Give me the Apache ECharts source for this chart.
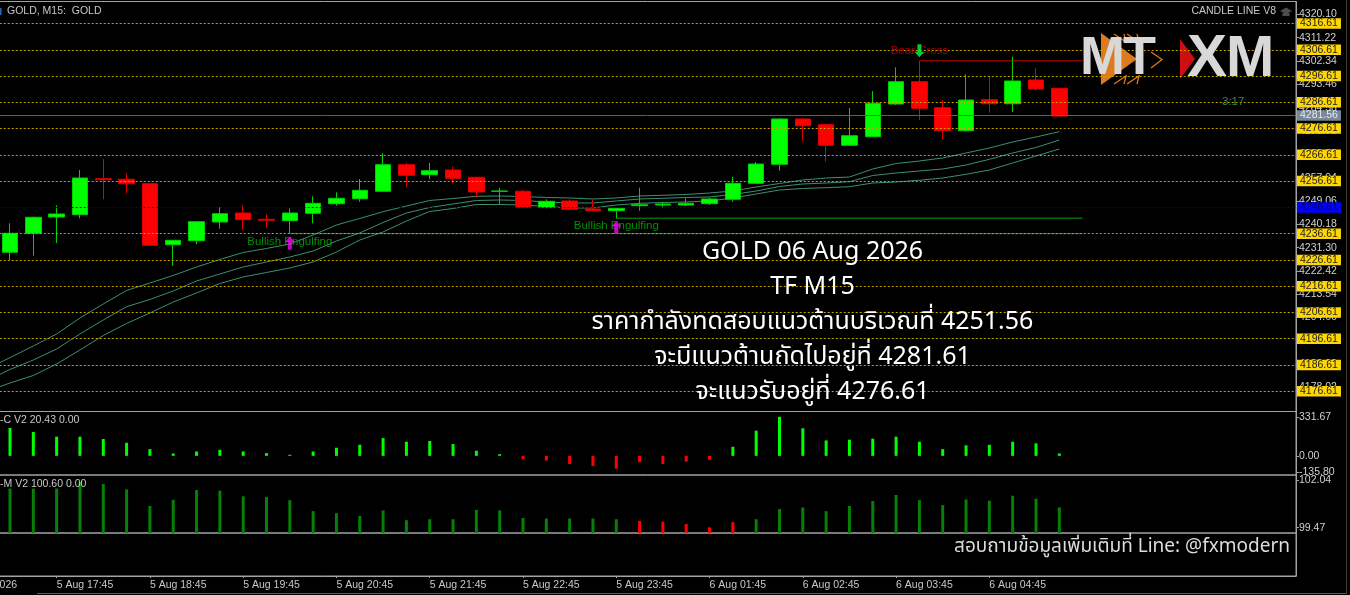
<!DOCTYPE html>
<html><head><meta charset="utf-8">
<style>html,body{margin:0;padding:0;background:#000;overflow:hidden}#c{width:1350px;height:595px}</style>
<script src="https://cdn.jsdelivr.net/npm/echarts@6/dist/echarts.min.js"></script>
</head><body><div id="c"></div>
<script>
// [open, close, low, high]
const candles=[
[4229.52,4236.75,4226.59,4240.56],[4236.75,4242.84,4228.23,4243.07],[4242.96,4244.10,4233.06,4247.41],[4243.83,4257.80,4242.46,4260.85],
[4257.53,4257.15,4249.69,4265.03],[4257.31,4255.63,4251.98,4259.59],[4255.63,4232.18,4231.92,4255.63],[4232.41,4234.09,4224.42,4234.09],
[4233.93,4241.17,4232.56,4241.43],[4241.05,4244.21,4238.50,4246.76],[4244.48,4241.93,4238.01,4247.41],[4242.08,4241.70,4238.77,4243.98],
[4241.55,4244.48,4236.75,4246.27],[4244.36,4248.17,4240.56,4250.84],[4248.02,4250.07,4247.26,4252.36],[4249.92,4253.12,4248.78,4257.42],
[4252.74,4262.86,4252.59,4267.20],[4262.86,4258.83,4254.26,4263.63],[4259.06,4260.58,4257.42,4263.51],[4260.85,4257.69,4255.78,4262.10],
[4258.07,4252.47,4250.30,4258.07],[4252.74,4252.85,4247.79,4254.11],[4252.74,4246.65,4246.65,4253.23],[4246.65,4248.93,4246.27,4249.69],
[4249.05,4245.89,4245.35,4249.69],[4246.00,4245.35,4245.13,4249.43],[4245.35,4246.27,4242.46,4246.65],[4247.26,4247.64,4245.35,4254.11],
[4247.52,4247.91,4246.65,4248.78],[4247.52,4248.17,4247.14,4250.07],[4248.02,4249.81,4247.52,4250.30],[4249.69,4255.78,4248.78,4258.30],
[4255.78,4263.13,4255.78,4263.89],[4263.02,4280.26,4260.58,4280.64],[4280.26,4277.71,4271.89,4280.64],[4278.09,4270.25,4264.01,4278.36],
[4270.25,4273.90,4270.25,4284.45],[4273.52,4286.24,4273.52,4290.92],[4285.97,4294.46,4285.59,4299.94],[4294.46,4284.33,4279.88,4302.45],
[4284.56,4275.81,4272.53,4287.49],[4275.81,4287.49,4275.43,4297.28],[4287.61,4286.08,4282.66,4296.63],[4286.08,4294.73,4282.93,4303.98],
[4295.11,4291.68,4291.03,4299.68],[4291.95,4281.40,4280.91,4291.95]];
// moving-average envelope, first value belongs to the bar before the first candle
const maUpper=[4185.10,4189.40,4193.85,4198.42,4204.51,4209.84,4214.98,4217.83,4220.69,4223.92,4226.78,4229.44,4230.97,4232.68,4236.10,4239.91,4242.39,4244.97,4247.14,4249.24,4250.00,4250.83,4250.95,4250.76,4250.38,4250.19,4249.81,4250.19,4250.95,4251.22,4251.52,4252.09,4252.85,4254.38,4255.71,4257.04,4257.80,4258.18,4261.23,4263.32,4264.27,4265.42,4267.32,4269.22,4271.51,4273.41,4275.43];
const maMiddle=[4180.60,4184.91,4188.52,4192.71,4198.42,4203.75,4208.81,4211.55,4214.79,4218.59,4221.26,4223.92,4225.83,4227.73,4230.01,4233.82,4236.87,4240.86,4244.48,4246.57,4247.91,4249.24,4249.43,4249.24,4248.67,4248.29,4248.29,4249.05,4249.81,4250.07,4250.38,4250.57,4251.52,4252.85,4254.57,4255.52,4255.90,4256.39,4258.75,4259.71,4260.47,4261.23,4262.75,4264.92,4267.32,4269.41,4272.27];
const maLower=[4176.53,4179.77,4182.62,4187.00,4192.33,4197.85,4202.42,4206.41,4210.60,4214.03,4217.64,4220.12,4221.83,4223.54,4225.83,4229.63,4234.20,4237.25,4241.43,4245.05,4246.19,4247.71,4247.71,4247.52,4246.95,4246.38,4246.38,4247.52,4248.17,4248.48,4248.67,4249.05,4250.19,4251.71,4253.23,4253.81,4254.11,4254.49,4255.90,4256.28,4256.93,4257.80,4259.21,4260.85,4263.51,4266.18,4268.84];
const cciValues=[237,203,163,163,143,111,57,20,37,51,37,23,9,37,69,94,151,120,126,100,43,14,-29,-40,-69,-86,-109,-54,-69,-49,-34,77,214,331.67,234,131,137,146,163,120,57,89,94,120,106,20];
const momValues=[101.60,101.60,101.60,101.96,101.85,101.56,100.65,100.99,101.52,101.49,101.18,101.14,100.97,100.37,100.26,100.11,100.41,99.88,99.93,99.93,100.44,100.41,100.00,99.97,99.97,99.97,99.93,99.84,99.80,99.67,99.49,99.77,99.93,100.48,100.57,100.37,100.65,100.92,101.25,100.97,100.70,101.01,100.94,101.21,101.05,100.57];
const momBelowTrend=[27,28,29,30,31];
const levels=[4316.61,4306.61,4296.61,4286.61,4276.61,4266.61,4256.61,4236.61,4226.61,4216.61,4206.61,4196.61,4186.61,4176.61];
const blueLevel=4246.61, currentPrice=4281.56;
const priceTicks=[4320.10,4311.22,4302.34,4293.46,4284.58,4275.70,4266.82,4257.94,4249.06,4240.18,4231.30,4222.42,4213.54,4204.66,4195.78,4186.90,4178.02];
const cciTicks=[331.67,0,-135.80];
const momTicks=[102.04,99.47];
const timeTickIndex=[-2,2,6,10,14,18,22,26,30,34,38,42];
const timeTickLabels=['5 Aug 2026','5 Aug 17:45','5 Aug 18:45','5 Aug 19:45','5 Aug 20:45','5 Aug 21:45','5 Aug 22:45','5 Aug 23:45','6 Aug 01:45','6 Aug 02:45','6 Aug 03:45','6 Aug 04:45'];
const patternLabels=[[12,4233.56,'Bullish Engulfing','#00b400'],[26,4239.53,'Bullish Engulfing','#00b400'],[39,4306.15,'Bear Cross','#d00000']];
const upArrows=[[12,4233.06],[26,4238.96]];
const downArrows=[[39,4306.22]];
const resistRed=[[39,4302.45],[46,4302.45]];
const supportGreenA=[[26,4242.50],[46,4242.50]];
const supportGreenB=[[12,4236.61],[46,4236.61]];
const noteLines=['GOLD 06 Aug 2026','TF M15','ราคากำลังทดสอบแนวต้านบริเวณที่ 4251.56','จะมีแนวต้านถัดไปอยู่ที่ 4281.61','จะแนวรับอยู่ที่ 4276.61'];
const contactLine='สอบถามข้อมูลเพิ่มเติมที่ Line: @fxmodern';

const FONT='"Liberation Sans",Arial,sans-serif', THAI='"Noto Sans","Noto Sans Thai","DejaVu Sans",sans-serif';
const XMIN=-2.5, XMAX=55.15, GL=-48.3, GW=1344.3, FRAME='#a3a3a3';
const grids=[[1.5,410],[411.5,63.5],[475,58],[533,43]].map(g=>({outerBoundsMode:'none',containLabel:false,left:GL,width:GW,top:g[0],height:g[1],show:true,borderColor:FRAME,borderWidth:1,backgroundColor:'transparent'}));
const xAxes=grids.map((g,i)=>({type:'value',gridIndex:i,min:XMIN,max:XMAX,show:i===3,splitLine:{show:false},
  axisLine:{show:i===3,onZero:false,lineStyle:{color:FRAME}},
  axisTick:{show:true,customValues:timeTickIndex,length:2,lineStyle:{color:FRAME}},
  axisLabel:{customValues:timeTickIndex,align:'left',margin:4,color:'#c8c8c8',fontSize:10.5,fontFamily:FONT,
    formatter:v=>timeTickLabels[timeTickIndex.indexOf(v)]||''}}));
const yA=(i,min,max,ticks)=>({type:'value',gridIndex:i,position:'right',min,max,splitLine:{show:false},
  axisLine:{show:true,onZero:false,lineStyle:{color:FRAME}},
  axisTick:{show:true,customValues:ticks,length:3,lineStyle:{color:FRAME}},
  axisLabel:{customValues:ticks,margin:3,color:'#d0d0d0',fontSize:10.5,fontFamily:FONT,formatter:v=>v.toFixed(2)}});
const yAxes=[yA(0,4168.91,4324.99,priceTicks),yA(1,-163,377,cciTicks),yA(2,99.18,102.34,momTicks),
  {type:'value',gridIndex:3,position:'right',min:0,max:1,show:true,splitLine:{show:false},axisLine:{show:true,onZero:false,lineStyle:{color:FRAME}},axisTick:{show:false},axisLabel:{show:false}}];
const maSeries=(a)=>({type:'line',data:a.map((v,i)=>[i-1,v]),symbol:'none',lineStyle:{color:'#3c9070',width:1},silent:true,z:3});
const hLine=(d,c,w)=>({type:'line',data:d,symbol:'none',lineStyle:{color:c,width:w},silent:true,z:2});
const boxLabel=(bg,fg)=>({show:true,position:'end',distance:1,formatter:p=>p.value.toFixed(2),backgroundColor:bg,color:fg,fontSize:10.5,fontFamily:FONT,padding:[0,3,0,3],lineHeight:10.5});
const markData=[
  ...levels.map(v=>({yAxis:v,lineStyle:{color:'#c8a400',type:[2,2],width:1},label:boxLabel('#ffd700','#222')})),
  {yAxis:blueLevel,lineStyle:{color:'#0000a0',type:[2,2],width:1},label:boxLabel('#0000ff','#00003a')},
  {yAxis:currentPrice,lineStyle:{color:'#5f5f5f',type:'solid',width:1},label:boxLabel('#778899','#e8e8e8')}];
const series=[
  {type:'line',data:[[0,currentPrice]],symbol:'none',lineStyle:{width:0},silent:true,z:1,
    markLine:{silent:true,symbol:'none',animation:false,precision:2,data:markData}},
  hLine(supportGreenB,'#1f7a00',1),hLine(supportGreenA,'#056a05',1.5),hLine(resistRed,'#8a0000',1.5),
  maSeries(maUpper),maSeries(maMiddle),maSeries(maLower),
  {type:'candlestick',data:candles.map((c,i)=>[i,c[0],c[1],c[2],c[3]]),barWidth:16,z:4,clip:true,
    itemStyle:{color:'#00ff00',color0:'#ff0000',borderColor:'#00d000',borderColor0:'#e00000',borderWidth:1}},
  {type:'scatter',data:patternLabels.map(p=>({value:[p[0],p[1]],label:{color:p[3]}})),symbolSize:1,itemStyle:{color:'transparent'},z:5,
    label:{show:true,position:'inside',fontSize:11.5,fontFamily:FONT,formatter:p=>patternLabels[p.dataIndex][2]}},
  {type:'scatter',data:upArrows,symbol:'path://M5 0L10 6L7 6L7 14L3 14L3 6L0 6Z',symbolSize:[10,13],itemStyle:{color:'#ff00ff'},z:6},
  {type:'scatter',data:downArrows,symbol:'path://M5 14L10 8L7 8L7 0L3 0L3 8L0 8Z',symbolSize:[10,13],itemStyle:{color:'#00ff40'},z:6},
  {type:'bar',xAxisIndex:1,yAxisIndex:1,barWidth:3,data:cciValues.map((v,i)=>({value:[i,v],itemStyle:{color:v<0?'#ff0000':'#00ff00'}}))},
  {type:'bar',xAxisIndex:2,yAxisIndex:2,barWidth:3,data:momValues.map((v,i)=>({value:[i,v],itemStyle:{color:momBelowTrend.includes(i)?'#ff0000':'#068006'}}))}
];
const T=(text,x,y,fill,font,align,z)=>({type:'text',z:z||100,silent:true,style:{text,x,y,fill,font,textAlign:align||'left',textVerticalAlign:'middle'}});
const poly=(points,fill,z)=>({type:'polygon',z:z||1,silent:true,shape:{points},style:{fill}});
const chev=(points)=>({type:'polyline',z:1,silent:true,shape:{points},style:{fill:'none',stroke:'#d9781e',lineWidth:1.3}});
const graphic=[
  {type:'rect',z:1,silent:true,shape:{x:0,y:8,width:1.5,height:7},style:{fill:'#2a68b0'}},
  {type:'line',z:1,silent:true,shape:{x1:37,y1:593.5,x2:1346,y2:593.5},style:{stroke:'#5a5a5a',lineWidth:1}},
  {type:'line',z:1,silent:true,shape:{x1:1346.5,y1:0,x2:1346.5,y2:594},style:{stroke:'#3a3a3a',lineWidth:1}},
  T('GOLD, M15:  GOLD',7,11.5,'#c8c8c8','10.5px '+FONT),
  T('CANDLE LINE V8',1276,11.5,'#c8c8c8','10.5px '+FONT,'right'),
  poly([[1280,11],[1286,7.5],[1292,11],[1286,14]],'#4d4d4d'),poly([[1282.5,13],[1289.5,13],[1289.5,16],[1282.5,16]],'#4d4d4d'),
  T('3:17',1222,102,'#2e8b57','11.5px '+FONT),
  T('-C V2 20.43 0.00',0,420.5,'#c8c8c8','10.5px '+FONT),
  T('-M V2 100.60 0.00',0,484,'#c8c8c8','10.5px '+FONT),
  // logo
  poly([[1101,33],[1137,59],[1101,85]],'#dd7a1e'),
  chev([[1114,34],[1126,42],[1124,34]]),chev([[1127,34],[1139,42],[1137,34]]),chev([[1114,84],[1126,76],[1124,84]]),chev([[1127,84],[1139,76],[1137,84]]),
  chev([[1151,52],[1162,59.5],[1151,68]]),
  poly([[1180,39],[1195,59],[1180,79]],'#cc0f0f'),
  T('M',1080,59.5,'#d8d8d8','bold 54px '+FONT),
  T('T',1123,59.5,'#d8d8d8','bold 54px '+FONT),
  T('X',1187,59.5,'#d8d8d8','bold 60px '+FONT),
  T('M',1226,59.5,'#d8d8d8','bold 58px '+FONT),
  ...noteLines.map((t,i)=>T(t,812.5,252+35*i,'#ffffff','25px '+THAI,'center')),
  T(contactLine,1290,547,'#dcdcdc','19px '+THAI,'right')
];
const chart=echarts.init(document.getElementById('c'),null,{renderer:'canvas'});
chart.setOption({animation:false,backgroundColor:'#000',tooltip:{show:false},legend:{show:false},grid:grids,xAxis:xAxes,yAxis:yAxes,series,graphic});
</script></body></html>
